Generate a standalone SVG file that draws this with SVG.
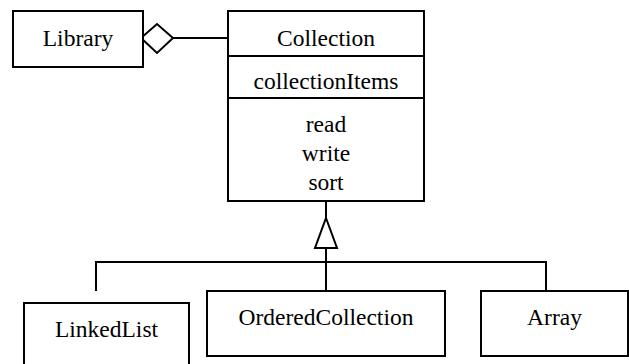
<svg xmlns="http://www.w3.org/2000/svg" width="629" height="364" viewBox="0 0 629 364">
<style>
.box{fill:#fff;stroke:#000;stroke-width:2}
.ln{fill:none;stroke:#000;stroke-width:2}
.hd{fill:#fff;stroke:#000;stroke-width:2;stroke-linejoin:miter}
.t{font-family:'Liberation Serif','Tinos','Times New Roman','DejaVu Serif',serif;font-size:23.5px;fill:#000;text-anchor:middle}
</style>
<rect width="629" height="364" fill="#fff"/>
<g id="connectors">
<line class="ln" x1="173" y1="38" x2="228" y2="38"/>
<polygon class="hd" points="141,38 157,24 173,38 157,53"/>
<line class="ln" x1="326" y1="201" x2="326" y2="218"/>
<polyline class="ln" points="326,248 326,291"/>
<polyline class="ln" points="96,291 96,262 546,262 546,291"/>
<polygon class="hd" points="326,218 337,248 315,248"/>
</g>
<g id="library">
<rect class="box" x="13" y="11" width="130" height="56"/>
<text class="t" x="78" y="46">Library</text>
</g>
<g id="collection">
<rect class="box" x="228" y="11" width="196" height="190"/>
<line class="ln" x1="228" y1="56" x2="424" y2="56"/>
<line class="ln" x1="228" y1="98" x2="424" y2="98"/>
<text class="t" x="326" y="46">Collection</text>
<text class="t" x="326" y="89">collectionItems</text>
<text class="t" x="326" y="132">read</text>
<text class="t" x="326" y="161">write</text>
<text class="t" x="326" y="190">sort</text>
</g>
<g id="linkedlist">
<rect class="box" x="24" y="303" width="165" height="70"/>
<text class="t" x="106.5" y="337">LinkedList</text>
</g>
<g id="orderedcollection">
<rect class="box" x="207" y="291" width="238" height="65"/>
<text class="t" x="326" y="325">OrderedCollection</text>
</g>
<g id="array">
<rect class="box" x="481" y="291" width="147" height="65"/>
<text class="t" x="554.5" y="325">Array</text>
</g>
</svg>
